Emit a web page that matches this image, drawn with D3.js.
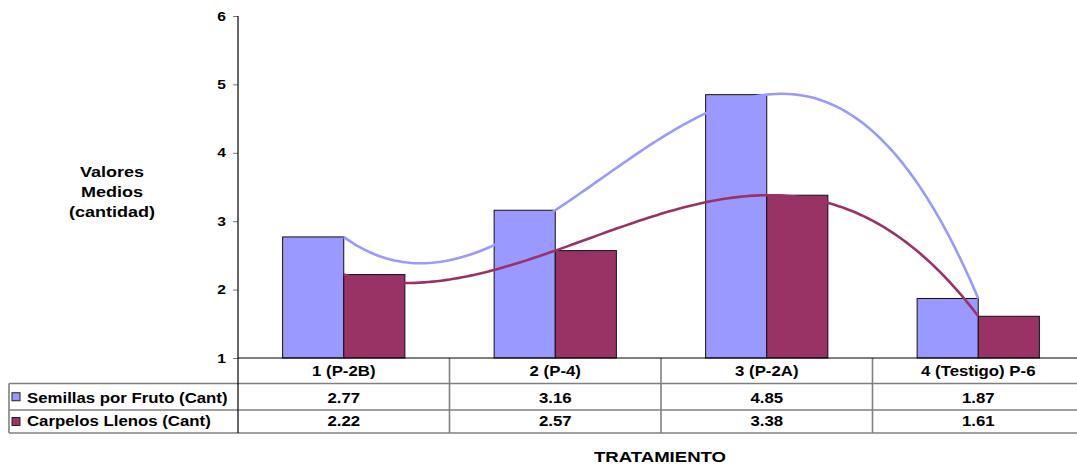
<!DOCTYPE html>
<html>
<head>
<meta charset="utf-8">
<script src="https://cdn.jsdelivr.net/npm/d3@7"></script>
<style>
  html, body { margin: 0; padding: 0; background: #fff; }
  svg { display: block; font-family: "Liberation Sans", Arial, sans-serif; font-weight: bold; }
</style>
</head>
<body>
<svg id="chart" width="1077" height="465"></svg>
<script>
// ---- data ----
const categories = ["1 (P-2B)", "2 (P-4)", "3 (P-2A)", "4 (Testigo) P-6"];
const seriesNames = ["Semillas por Fruto (Cant)", "Carpelos Llenos (Cant)"];
const semillas = [2.77, 3.16, 4.85, 1.87];
const carpelos = [2.22, 2.57, 3.38, 1.61];
const yTicks = [1, 2, 3, 4, 5, 6];
const yTitle = ["Valores", "Medios", "(cantidad)"];
const xTitle = "TRATAMIENTO";

const colors = ["#9999ff", "#993366"];
const series = [semillas, carpelos];

// ---- layout ----
const svg = d3.select("#chart");
const plot = { left: 238, right: 1084, top: 16, bottom: 358 };
const rows = [358, 383.5, 410, 433];
const tableLeft = 9;
const stretch = 1.2; // wide glyph rendering

const x = d3.scaleBand().domain(categories).range([plot.left, plot.right]);
const y = d3.scaleLinear().domain([1, 6]).range([plot.bottom, plot.top]);
const barW = x.bandwidth() * 0.289;
const center = c => x(c) + x.bandwidth() / 2;

// text helper: horizontally stretched bold label
function label(g, txt, px, py, size, anchor) {
  return g.append("text")
    .attr("transform", `translate(${px},${py}) scale(${stretch},1)`)
    .attr("text-anchor", anchor || "middle")
    .attr("font-size", size)
    .attr("fill", "#000")
    .text(txt);
}

// ---- bars ----
series.forEach((vals, si) => {
  svg.append("g").selectAll("rect")
    .data(vals)
    .join("rect")
    .attr("x", (d, i) => center(categories[i]) - barW + si * barW)
    .attr("y", d => y(d))
    .attr("width", barW)
    .attr("height", d => y(1) - y(d))
    .attr("fill", colors[si])
    .attr("stroke", "#111")
    .attr("stroke-width", 1);
});

// ---- polynomial (order 3) trendlines, least squares ----
function polyfit(xs, ys, order) {
  const n = order + 1;
  const A = Array.from({ length: n }, () => new Array(n + 1).fill(0));
  for (let r = 0; r < n; r++) {
    for (let c = 0; c < n; c++) A[r][c] = d3.sum(xs, v => Math.pow(v, r + c));
    A[r][n] = d3.sum(xs, (v, k) => ys[k] * Math.pow(v, r));
  }
  for (let p = 0; p < n; p++) {
    let best = p;
    for (let r = p + 1; r < n; r++) if (Math.abs(A[r][p]) > Math.abs(A[best][p])) best = r;
    [A[p], A[best]] = [A[best], A[p]];
    for (let r = 0; r < n; r++) {
      if (r === p) continue;
      const f = A[r][p] / A[p][p];
      for (let c = p; c <= n; c++) A[r][c] -= f * A[p][c];
    }
  }
  return A.map((row, i) => row[n] / row[i]);
}
const idx = categories.map((c, i) => i + 1);
const xi = d3.scaleLinear().domain([1, categories.length])
  .range([center(categories[0]), center(categories[categories.length - 1])]);
const samples = d3.range(1, categories.length + 1e-9, 0.02);
const line = d3.line().x(d => xi(d[0])).y(d => y(d[1])).curve(d3.curveLinear);

series.forEach((vals, si) => {
  const coef = polyfit(idx, vals, 3);
  const f = t => coef.reduce((s, c, k) => s + c * Math.pow(t, k), 0);
  svg.append("path")
    .datum(samples.map(t => [t, f(t)]))
    .attr("d", line)
    .attr("fill", "none")
    .attr("stroke", colors[si])
    .attr("stroke-width", 2.6)
    .attr("stroke-linejoin", "round");
});

// ---- y axis ----
const yAxis = svg.append("g")
  .attr("transform", `translate(${plot.left},0)`)
  .call(d3.axisLeft(y).tickValues(yTicks).tickSize(5).tickPadding(7).tickFormat(d3.format("d")));
yAxis.select(".domain").remove();
yAxis.selectAll(".tick line").attr("stroke", "#777");
yAxis.selectAll(".tick text")
  .attr("font-size", 13)
  .attr("font-family", "Liberation Sans, Arial, sans-serif")
  .attr("font-weight", "bold")
  .attr("fill", "#000")
  .attr("x", -12 / stretch)
  .attr("transform", `scale(${stretch},1)`);

// ---- data table ----
const table = svg.append("g");
// grey grid
rows.slice(1).forEach(ry => {
  table.append("line").attr("x1", tableLeft).attr("x2", plot.right)
    .attr("y1", ry).attr("y2", ry).attr("stroke", "#808080").attr("stroke-width", 1.6);
});
categories.slice(1).forEach(c => {
  table.append("line").attr("x1", x(c)).attr("x2", x(c))
    .attr("y1", rows[0]).attr("y2", rows[3]).attr("stroke", "#808080").attr("stroke-width", 1.6);
});
table.append("line").attr("x1", tableLeft).attr("x2", tableLeft)
  .attr("y1", rows[1]).attr("y2", rows[3]).attr("stroke", "#808080").attr("stroke-width", 1.6);

// axis lines (black)
svg.append("line").attr("x1", plot.left).attr("x2", plot.right)
  .attr("y1", plot.bottom).attr("y2", plot.bottom).attr("stroke", "#000").attr("stroke-width", 1.2);
svg.append("line").attr("x1", plot.left).attr("x2", plot.left)
  .attr("y1", plot.top).attr("y2", rows[3]).attr("stroke", "#000").attr("stroke-width", 1.2);

// category row
categories.forEach(c => label(table, c, center(c), rows[1] - 7.5, 14));
// value rows
series.forEach((vals, si) => {
  const by = rows[si + 2] - 7.5;
  vals.forEach((v, i) => label(table, d3.format(".2f")(v), center(categories[i]), by, 14));
  const cy = (rows[si + 1] + rows[si + 2]) / 2;
  table.append("rect").attr("x", 12).attr("y", cy - 4).attr("width", 8).attr("height", 8)
    .attr("fill", colors[si]).attr("stroke", "#222").attr("stroke-width", 1);
  label(table, seriesNames[si], 27, by, 14, "start");
});

// ---- titles ----
yTitle.forEach((t, i) => label(svg, t, 112, 177 + i * 20, 15));
label(svg, xTitle, 660, 462, 15.5);
</script>
</body>
</html>
